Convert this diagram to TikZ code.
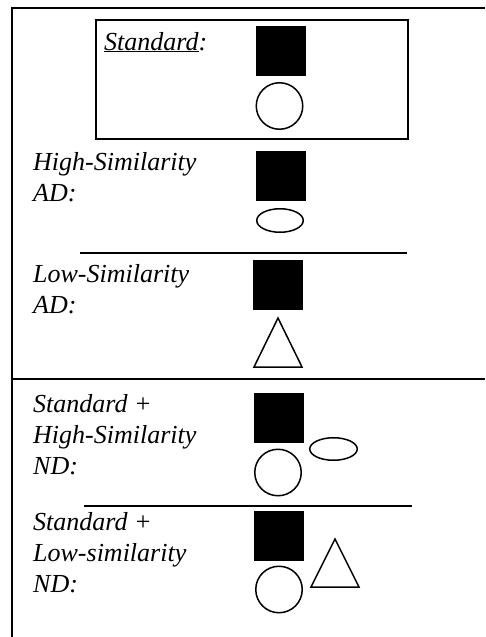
\documentclass[tikz,border=0pt]{standalone}
\usepackage{fontspec}
\setmainfont{Liberation Serif}
\usetikzlibrary{shapes.geometric}
\begin{document}
\begin{tikzpicture}[x=1pt,y=-1pt,
  lbl/.style={anchor=base west,inner sep=0pt,font=\fontsize{26}{31}\selectfont\itshape},
  sq/.style={draw=black,fill=black,rectangle,minimum size=49pt,inner sep=0pt},
  circ/.style={draw=black,line width=1.5pt,circle,minimum size=46.5pt,inner sep=0pt},
  ell/.style={draw=black,line width=1.5pt,ellipse,inner sep=0pt},
  shp/.style={draw=black,line width=1.5pt,line join=miter},
  frame/.style={draw=black,line width=2pt},
  sep/.style={draw=black,line width=1.8pt}]
\useasboundingbox (0,0) rectangle (485,637);
% outer frame and main separator
\coordinate (fbl) at (12,637);
\coordinate (ftl) at (12,8);
\coordinate (ftr) at (485,8);
\draw[frame] (fbl) -- (ftl) -- (ftr);
\coordinate (ml) at (12,379);
\coordinate (mr) at (485,379);
\draw[frame] (ml) -- (mr);
% standard box
\node[frame,rectangle,minimum width=312pt,minimum height=119pt,inner sep=0pt,anchor=north west] (stdbox) at (95,19) {};
% labels
\node[lbl] (t1) at (104,50) {\underline{Standard}:};
\node[lbl] (t2a) at (33,170) {High-Similarity};
\node[lbl] (t2b) at (33,201) {AD:};
\node[lbl] (t3a) at (33,282) {Low-Similarity};
\node[lbl] (t3b) at (33,313) {AD:};
\node[lbl] (t4a) at (33,412) {Standard +};
\node[lbl] (t4b) at (33,443) {High-Similarity};
\node[lbl] (t4c) at (33,474) {ND:};
\node[lbl] (t5a) at (33,530) {Standard +};
\node[lbl] (t5b) at (33,561) {Low-similarity};
\node[lbl] (t5c) at (33,592) {ND:};
% squares
\node[sq] (s1) at (281,51) {};
\node[sq] (s2) at (281,176) {};
\node[sq] (s3) at (278,285) {};
\node[sq] (s4) at (279,417.5) {};
\node[sq] (s5) at (279,535.5) {};
% circles
\node[circ] (c1) at (279.5,106) {};
\node[circ] (c2) at (278,472.5) {};
\node[circ] (c3) at (279,589.5) {};
% ellipses
\node[ell,minimum width=46.5pt,minimum height=23.5pt] (e1) at (280,220.5) {};
\node[ell,minimum width=47.5pt,minimum height=22.5pt] (e2) at (333.5,449) {};
% triangles
\coordinate (a1) at (278,318);
\coordinate (b1) at (254,367);
\coordinate (d1) at (302,367);
\draw[shp] (a1) -- (d1) -- (b1) -- cycle;
\coordinate (a2) at (335,539);
\coordinate (b2) at (311,587);
\coordinate (d2) at (359,587);
\draw[shp] (a2) -- (d2) -- (b2) -- cycle;
% separators
\coordinate (l1a) at (80,253);
\coordinate (l1b) at (407,253);
\draw[sep] (l1a) -- (l1b);
\coordinate (l2a) at (84,506);
\coordinate (l2b) at (412,506);
\draw[sep] (l2a) -- (l2b);
\end{tikzpicture}
\end{document}
